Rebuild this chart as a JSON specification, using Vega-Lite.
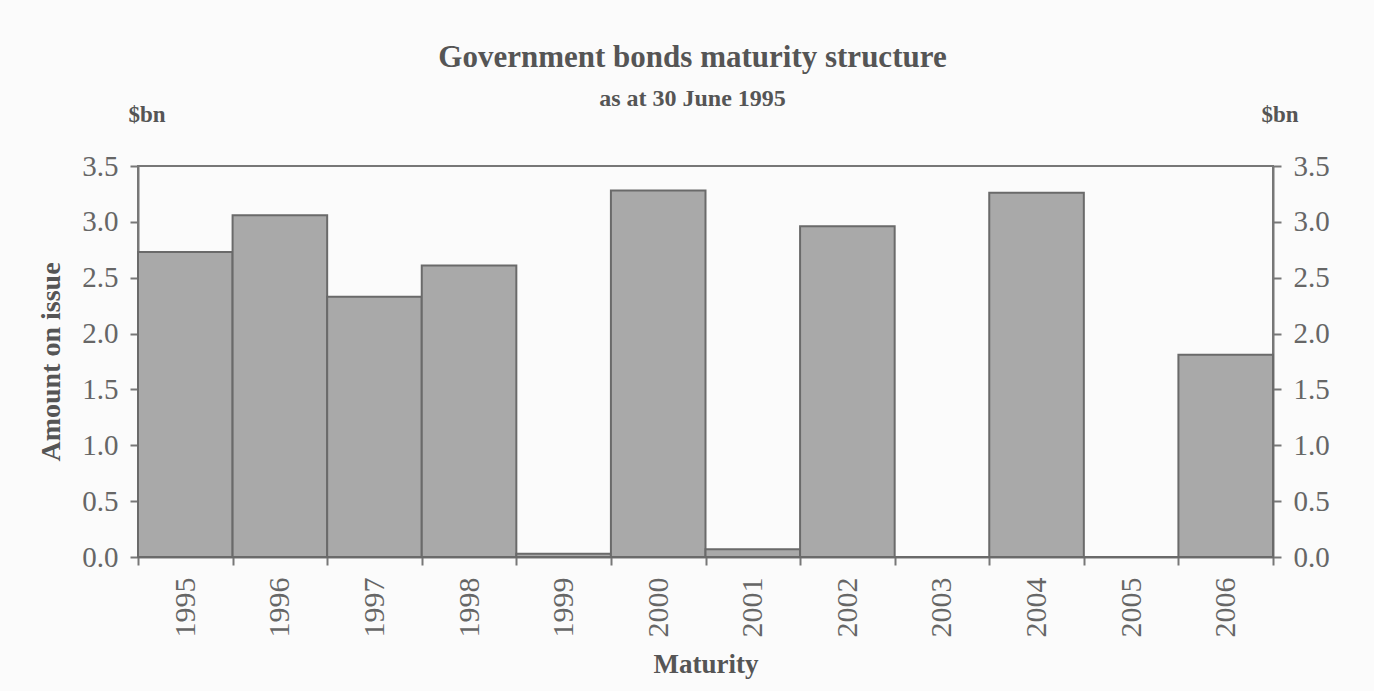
{
  "$schema": "https://vega.github.io/schema/vega-lite/v6.json",
  "autosize": "none",
  "width": 1135,
  "height": 391,
  "padding": {"left": 138, "top": 166, "right": 101, "bottom": 134},
  "background": "#fbfbfb",
  "title": {
    "text": "Government bonds maturity structure",
    "subtitle": "as at 30 June 1995",
    "font": "Liberation Serif",
    "fontSize": 31,
    "fontWeight": "bold",
    "color": "#555555",
    "subtitleFont": "Liberation Serif",
    "subtitleFontSize": 24,
    "subtitleFontWeight": "bold",
    "subtitleColor": "#555555",
    "subtitlePadding": 13,
    "anchor": "middle",
    "dx": -13,
    "offset": -8
  },
  "config": {
    "view": {"stroke": "#777777", "strokeWidth": 2},
    "axis": {
      "labelFont": "Liberation Serif",
      "titleFont": "Liberation Serif",
      "labelColor": "#666666",
      "titleColor": "#555555",
      "domainColor": "#777777",
      "domainWidth": 2,
      "tickColor": "#777777",
      "tickWidth": 2,
      "tickSize": 8,
      "grid": false
    }
  },
  "data": {
    "values": [
      {"year": "1995", "amount": 2.73},
      {"year": "1996", "amount": 3.06},
      {"year": "1997", "amount": 2.33},
      {"year": "1998", "amount": 2.61},
      {"year": "1999", "amount": 0.03},
      {"year": "2000", "amount": 3.28},
      {"year": "2001", "amount": 0.07},
      {"year": "2002", "amount": 2.96},
      {"year": "2003", "amount": 0},
      {"year": "2004", "amount": 3.26},
      {"year": "2005", "amount": 0},
      {"year": "2006", "amount": 1.81}
    ]
  },
  "layer": [
    {
      "mark": {"type": "bar", "fill": "#a9a9a9", "stroke": "#6a6a6a", "strokeWidth": 2},
      "encoding": {
        "x": {
          "field": "year",
          "type": "nominal",
          "sort": null,
          "scale": {"paddingInner": 0, "paddingOuter": 0},
          "axis": {
            "title": "Maturity",
            "titleFontSize": 27,
            "titlePadding": 14,
            "labelAngle": 270,
            "labelFontSize": 30,
            "labelPadding": 12,
            "tickBand": "extent"
          }
        },
        "y": {
          "field": "amount",
          "type": "quantitative",
          "scale": {"domain": [0, 3.5], "nice": false},
          "axis": {
            "title": "Amount on issue",
            "titleFontSize": 28,
            "titlePadding": 16,
            "labelFontSize": 29,
            "labelPadding": 12,
            "format": ".1f",
            "values": [0, 0.5, 1, 1.5, 2, 2.5, 3, 3.5]
          }
        }
      }
    },
    {
      "mark": {"type": "bar", "opacity": 0},
      "encoding": {
        "x": {"field": "year", "type": "nominal", "sort": null},
        "y": {
          "field": "amount",
          "type": "quantitative",
          "scale": {"domain": [0, 3.5], "nice": false},
          "axis": {
            "orient": "right",
            "title": null,
            "labelFontSize": 29,
            "labelPadding": 12,
            "format": ".1f",
            "values": [0, 0.5, 1, 1.5, 2, 2.5, 3, 3.5]
          }
        }
      }
    },
    {
      "data": {"values": [{"label": "$bn", "year": "1995", "amount": 3.5}]},
      "mark": {"type": "text", "font": "Liberation Serif", "fontSize": 23, "fontWeight": "bold", "color": "#555555", "align": "center", "baseline": "middle", "dx": 9, "dy": -51},
      "encoding": {
        "x": {"field": "year", "type": "nominal", "bandPosition": 0},
        "y": {"field": "amount", "type": "quantitative", "scale": {"domain": [0, 3.5], "nice": false}, "axis": null},
        "text": {"field": "label"}
      }
    },
    {
      "data": {"values": [{"label": "$bn", "year": "2006", "amount": 3.5}]},
      "mark": {"type": "text", "font": "Liberation Serif", "fontSize": 23, "fontWeight": "bold", "color": "#555555", "align": "center", "baseline": "middle", "dx": 7, "dy": -51},
      "encoding": {
        "x": {"field": "year", "type": "nominal", "bandPosition": 1},
        "y": {"field": "amount", "type": "quantitative", "scale": {"domain": [0, 3.5], "nice": false}, "axis": null},
        "text": {"field": "label"}
      }
    }
  ],
  "resolve": {"scale": {"y": "independent"}}
}
